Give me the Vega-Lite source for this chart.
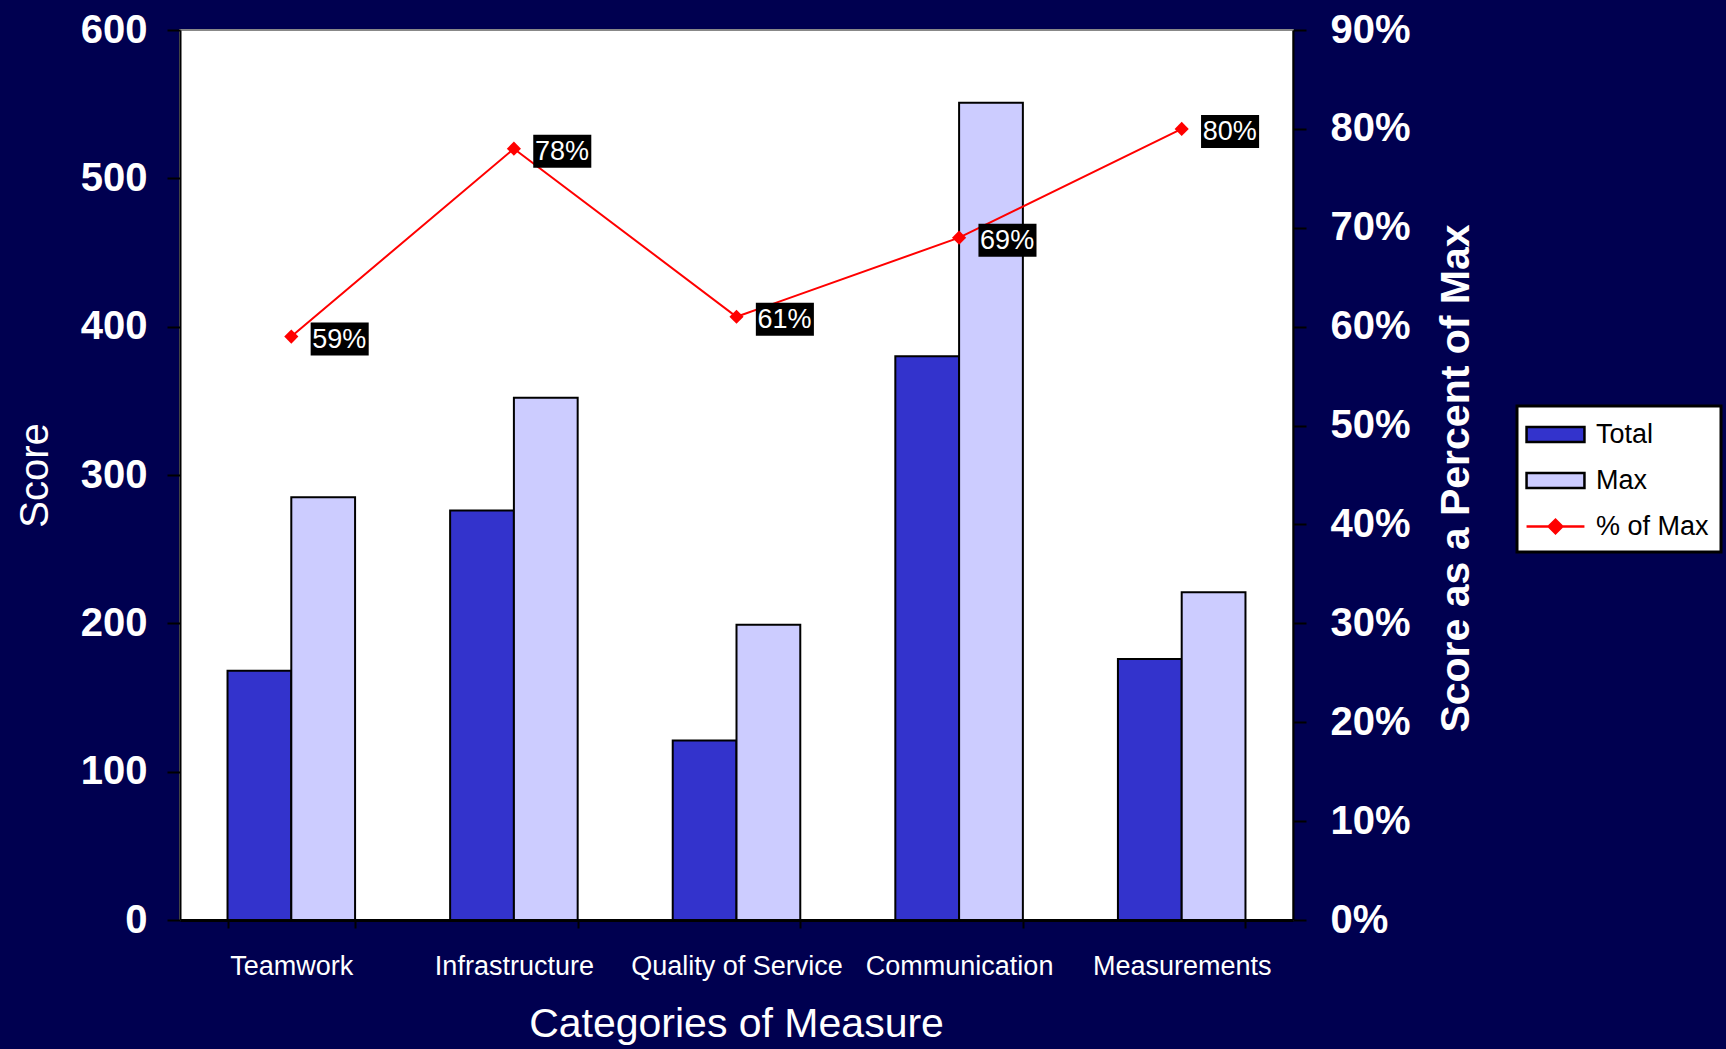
{
  "$schema": "https://vega.github.io/schema/vega-lite/v6.json",
  "width": 1113,
  "height": 890,
  "autosize": "none",
  "padding": {"left": 180, "top": 30, "right": 433, "bottom": 129},
  "background": "#000050",
  "config": {
    "font": "Liberation Sans",
    "view": {"fill": "white", "stroke": "#888888", "strokeWidth": 2}
  },
  "data": {
    "values": [
      {"Category": "Teamwork", "Total": 168, "Max": 285, "Pct": 0.59},
      {"Category": "Infrastructure", "Total": 276, "Max": 352, "Pct": 0.78},
      {"Category": "Quality of Service", "Total": 121, "Max": 199, "Pct": 0.61},
      {"Category": "Communication", "Total": 380, "Max": 551, "Pct": 0.69},
      {"Category": "Measurements", "Total": 176, "Max": 221, "Pct": 0.80}
    ]
  },
  "encoding": {
    "x": {
      "field": "Category",
      "type": "nominal",
      "sort": null,
      "scale": {"paddingInner": 0.427, "paddingOuter": 0.2135},
      "axis": {
        "title": "Categories of Measure",
        "titleColor": "white",
        "titleFontSize": 41,
        "titleFontWeight": "normal",
        "titleX": 556,
        "titleY": 104,
        "titleBaseline": "middle",
        "labelAngle": 0,
        "labelColor": "white",
        "labelFontSize": 27,
        "labelPadding": 25,
        "labelLimit": 0,
        "tickBand": "extent",
        "tickSize": 8,
        "tickColor": "black",
        "tickWidth": 2,
        "domainColor": "black",
        "domainWidth": 3
      }
    }
  },
  "layer": [
    {
      "transform": [{"fold": ["Total", "Max"], "as": ["key", "value"]}],
      "mark": {"type": "bar", "stroke": "black", "strokeWidth": 2},
      "encoding": {
        "xOffset": {"field": "key", "sort": ["Total", "Max"], "scale": {"paddingInner": 0, "paddingOuter": 0}},
        "y": {
          "field": "value",
          "type": "quantitative",
          "scale": {"domain": [0, 600], "nice": false},
          "axis": {
            "title": "Score",
            "titleColor": "white",
            "titleFontSize": 40,
            "titleFontWeight": "normal",
            "titleX": -145,
            "titleY": 445,
            "titleAngle": -90,
            "titleBaseline": "middle",
            "titleAlign": "center",
            "values": [0, 100, 200, 300, 400, 500, 600],
            "labelColor": "white",
            "labelFontSize": 40,
            "labelFontWeight": "bold",
            "labelPadding": 20,
            "labelFlush": false,
            "labelOverlap": false,
            "tickSize": 13,
            "tickColor": "black",
            "tickWidth": 2,
            "domainColor": "black",
            "domainWidth": 2,
            "grid": false
          }
        },
        "color": {
          "field": "key",
          "type": "nominal",
          "scale": {"domain": ["Total", "Max", "% of Max"], "range": ["#3333cc", "#ccccff", "#ff0000"]},
          "legend": {
            "title": null,
            "orient": "none",
            "legendX": 1337,
            "legendY": 376,
            "padding": 12,
            "fillColor": "white",
            "strokeColor": "black",
            "labelColor": "black",
            "labelFontSize": 27,
            "symbolSize": 900,
            "symbolOffset": 10,
            "labelOffset": 24,
            "rowPadding": 16,
            "encoding": {
              "legend": {"strokeWidth": {"value": 3}},
              "symbols": {
                "shape": {"value": {"expr": "datum.value === '% of Max' ? 'M-1.93,0H1.93M-0.45,0L0,-0.45L0.45,0L0,0.45Z' : 'M-1.93,-0.5H1.93V0.5H-1.93Z'"}},
                "stroke": {"value": {"expr": "datum.value === '% of Max' ? '#ff0000' : '#000000'"}},
                "fill": {"value": {"expr": "datum.value === '% of Max' ? '#ff0000' : (datum.value === 'Total' ? '#3333cc' : '#ccccff')"}},
                "strokeWidth": {"value": 2.5},
                "strokeOpacity": {"value": 1},
                "fillOpacity": {"value": 1},
                "opacity": {"value": 1}
              }
            }
          }
        }
      }
    },
    {
      "encoding": {
        "y": {
          "field": "Pct",
          "type": "quantitative",
          "scale": {"domain": [0, 0.9], "nice": false},
          "axis": {
            "orient": "right",
            "format": ".0%",
            "values": [0, 0.1, 0.2, 0.3, 0.4, 0.5, 0.6, 0.7, 0.8, 0.9],
            "title": "Score as a Percent of Max",
            "titleColor": "white",
            "titleFontSize": 41,
            "titleFontWeight": "bold",
            "titleX": 163,
            "titleY": 448,
            "titleAngle": -90,
            "titleBaseline": "middle",
            "titleAlign": "center",
            "labelColor": "white",
            "labelFontSize": 40,
            "labelFontWeight": "bold",
            "labelPadding": 24,
            "labelFlush": false,
            "labelOverlap": false,
            "tickSize": 13,
            "tickColor": "black",
            "tickWidth": 2,
            "domainColor": "black",
            "domainWidth": 2,
            "grid": false
          }
        }
      },
      "layer": [
        {
          "mark": {"type": "line", "strokeWidth": 2, "color": "#ff0000", "point": {"filled": true, "shape": "diamond", "size": 200, "color": "#ff0000"}}
        },
        {
          "mark": {"type": "point", "shape": "M1.29,-0.93H5.16V1.27H1.29Z", "size": 900, "filled": true, "color": "black", "opacity": 1}
        },
        {
          "mark": {"type": "text", "align": "left", "baseline": "middle", "dx": 21, "dy": 3, "fontSize": 27, "color": "white"},
          "encoding": {"text": {"field": "Pct", "format": ".0%"}}
        }
      ]
    }
  ],
  "resolve": {"scale": {"y": "independent"}}
}
